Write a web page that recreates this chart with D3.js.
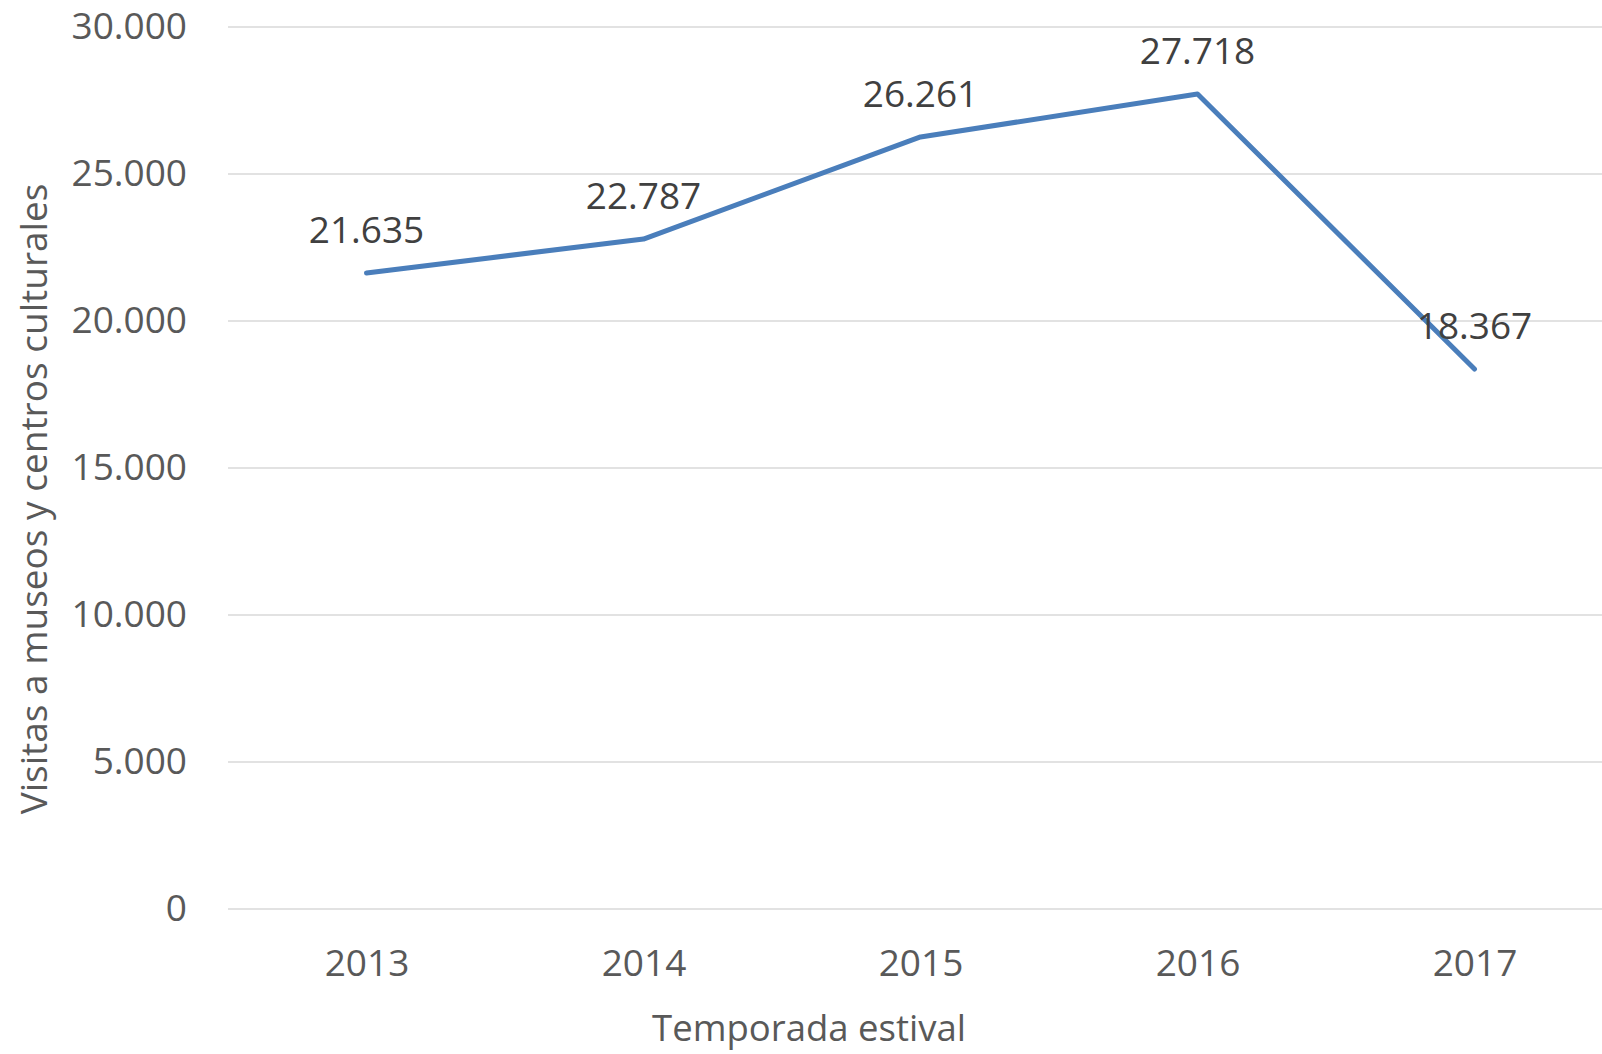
<!DOCTYPE html>
<html>
<head>
<meta charset="utf-8">
<script src="https://cdn.jsdelivr.net/npm/d3@7"></script>
<style>
  html, body { margin: 0; padding: 0; background: #fff; }
  svg { display: block; font-family: "Open Sans", "Noto Sans", sans-serif; }
</style>
</head>
<body>
<svg id="chart" width="1602" height="1054"></svg>
<script>
// data
var years = ["2013", "2014", "2015", "2016", "2017"];
var visits = [21635, 22787, 26261, 27718, 18367];
var yTicks = [0, 5000, 10000, 15000, 20000, 25000, 30000];

var margin = {top: 27, right: -11, bottom: 145, left: 228};
var width = 1602 - margin.left - margin.right;
var height = 1054 - margin.top - margin.bottom;

var svg = d3.select("#chart")
    .append("g")
    .attr("transform", `translate(${margin.left},${margin.top})`);

var fmt = d3.formatLocale({decimal: ",", thousands: ".", grouping: [3], currency: ["", ""]}).format(",d");

var x = d3.scalePoint()
    .domain(years)
    .range([0, width])
    .padding(0.5);

var y = d3.scaleLinear()
    .domain([0, 30000])
    .range([height, 0]);

// gridlines
svg.append("g")
    .selectAll("line")
    .data(yTicks)
    .enter()
    .append("line")
    .attr("x1", 0)
    .attr("x2", width)
    .attr("y1", d => y(d))
    .attr("y2", d => y(d))
    .attr("stroke", "#d9d9d9")
    .attr("stroke-width", 1.5);

// y axis labels
var yAxis = svg.append("g")
    .call(d3.axisLeft(y).tickValues(yTicks).tickFormat(fmt).tickSize(0).tickPadding(41));
yAxis.select(".domain").remove();
yAxis.selectAll("text")
    .attr("fill", "#595959")
    .style("font-size", "37px")
    .style("font-family", "'Open Sans', sans-serif");

// x axis labels
var xAxis = svg.append("g")
    .attr("transform", `translate(0,${height})`)
    .call(d3.axisBottom(x).tickSize(0).tickPadding(41));
xAxis.select(".domain").remove();
xAxis.selectAll("text")
    .attr("fill", "#595959")
    .style("font-size", "37px")
    .style("font-family", "'Open Sans', sans-serif");

// line
var line = d3.line()
    .x((d, i) => x(years[i]))
    .y(d => y(d));

svg.append("path")
    .datum(visits)
    .attr("fill", "none")
    .attr("stroke", "#4a7ebb")
    .attr("stroke-width", 5)
    .attr("stroke-linejoin", "round")
    .attr("stroke-linecap", "round")
    .attr("d", line);

// data labels
svg.append("g")
    .selectAll("text")
    .data(visits)
    .enter()
    .append("text")
    .attr("x", (d, i) => x(years[i]))
    .attr("y", d => y(d) - 43)
    .attr("dy", "0.35em")
    .attr("text-anchor", "middle")
    .attr("fill", "#404040")
    .style("font-size", "37px")
    .text(d => fmt(d));

// axis titles
d3.select("#chart").append("text")
    .attr("x", 809)
    .attr("y", 1028)
    .attr("dy", "0.35em")
    .attr("text-anchor", "middle")
    .attr("fill", "#595959")
    .style("font-size", "36.5px")
    .text("Temporada estival");

d3.select("#chart").append("text")
    .attr("transform", "translate(34,499) rotate(-90)")
    .attr("dy", "0.35em")
    .attr("text-anchor", "middle")
    .attr("fill", "#595959")
    .style("font-size", "37px")
    .text("Visitas a museos y centros culturales");
</script>
</body>
</html>
